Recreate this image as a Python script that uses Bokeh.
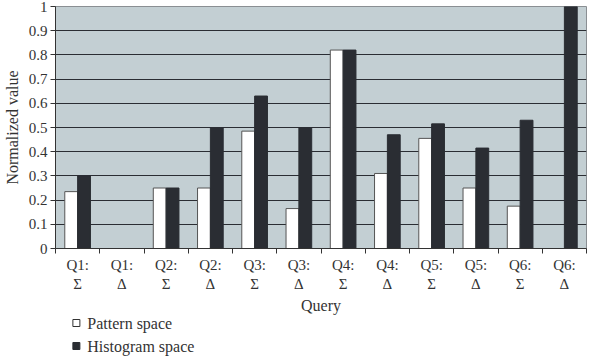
from bokeh.plotting import figure
from bokeh.layouts import column
from bokeh.models import FixedTicker, ColumnDataSource, Range1d, Label
from bokeh.embed import file_html
from bokeh.resources import INLINE

queries = ["Q1:\nΣ", "Q1:\nΔ", "Q2:\nΣ", "Q2:\nΔ", "Q3:\nΣ", "Q3:\nΔ",
           "Q4:\nΣ", "Q4:\nΔ", "Q5:\nΣ", "Q5:\nΔ", "Q6:\nΣ", "Q6:\nΔ"]
pattern_space = [0.235, 0.0, 0.25, 0.25, 0.485, 0.165, 0.82, 0.31, 0.455, 0.25, 0.175, 0.0]
histogram_space = [0.30, 0.0, 0.25, 0.50, 0.63, 0.50, 0.82, 0.47, 0.515, 0.415, 0.53, 1.0]
y_ticks = [0, 0.1, 0.2, 0.3, 0.4, 0.5, 0.6, 0.7, 0.8, 0.9, 1]
y_labels = ["0", "0.1", "0.2", "0.3", "0.4", "0.5", "0.6", "0.7", "0.8", "0.9", "1"]
series_names = ["Pattern space", "Histogram space"]

FONT = "Liberation Serif"
TXT = "#333333"
DARK = "#2a2d33"
n = len(queries)
centers = [i + 0.5 for i in range(n)]
bw = 0.29

src = ColumnDataSource(dict(
    xp=[c - bw / 2 for c in centers],
    xh=[c + bw / 2 for c in centers],
    pat=pattern_space,
    hist=histogram_space,
))

p = figure(width=593, height=316, output_backend="svg", toolbar_location=None,
           x_range=(0, n), y_range=(0, 1))
p.min_border_left = 52
p.min_border_right = 7
p.min_border_top = 6
p.min_border_bottom = 68
p.background_fill_color = "#c3cfd3"
p.border_fill_color = "white"
p.outline_line_color = "#8a8f93"
p.outline_line_width = 1

p.xgrid.grid_line_color = None
p.ygrid.grid_line_color = DARK
p.ygrid.grid_line_width = 1
p.ygrid.ticker = FixedTicker(ticks=y_ticks)

p.vbar(x="xp", top="pat", width=bw, source=src, fill_color="white",
       line_color="#555555", line_width=1)
p.vbar(x="xh", top="hist", width=bw, source=src, fill_color=DARK,
       line_color=DARK, line_width=1)

# y axis
p.yaxis.ticker = FixedTicker(ticks=y_ticks)
p.yaxis.major_label_overrides = {t: l for t, l in zip(y_ticks, y_labels)}
p.yaxis.axis_label = "Normalized value"
p.yaxis.axis_label_text_font = FONT
p.yaxis.axis_label_text_font_style = "normal"
p.yaxis.axis_label_text_font_size = "16px"
p.yaxis.axis_label_text_color = TXT
p.yaxis.major_label_text_font = FONT
p.yaxis.major_label_text_font_size = "15px"
p.yaxis.major_label_text_color = TXT
p.yaxis.major_label_standoff = 3
p.yaxis.axis_line_color = TXT
p.yaxis.major_tick_line_color = TXT
p.yaxis.major_tick_out = 5
p.yaxis.major_tick_in = 0
p.yaxis.minor_tick_line_color = None
p.yaxis.axis_label_standoff = 5

# x axis
p.xaxis.ticker = FixedTicker(ticks=centers, minor_ticks=list(range(n + 1)))
p.xaxis.major_label_overrides = {c: q for c, q in zip(centers, queries)}
p.xaxis.major_tick_line_color = None
p.xaxis.minor_tick_line_color = TXT
p.xaxis.minor_tick_out = 5
p.xaxis.minor_tick_in = 0
p.xaxis.major_label_text_font = FONT
p.xaxis.major_label_text_font_size = "15px"
p.xaxis.major_label_text_color = TXT
p.xaxis.major_label_standoff = 2
p.xaxis.axis_line_color = TXT
p.xaxis.axis_label = "Query"
p.xaxis.axis_label_text_font = FONT
p.xaxis.axis_label_text_font_style = "normal"
p.xaxis.axis_label_text_font_size = "16px"
p.xaxis.axis_label_text_color = TXT
p.xaxis.axis_label_standoff = 2

# legend panel below; its frame is aligned with the main frame (x 52..586),
# so the x range is given in page pixels
p2 = figure(width=593, height=46, output_backend="svg", toolbar_location=None,
            x_range=Range1d(52, 586), y_range=Range1d(46, 0),
            x_axis_type=None, y_axis_type=None, min_border=0)
p2.min_border_left = 52
p2.min_border_right = 7
p2.min_border_top = 0
p2.min_border_bottom = 0
p2.outline_line_color = None
p2.background_fill_color = "white"
p2.border_fill_color = "white"
p2.grid.visible = False

leg_rows = [6.5, 29.5]
p2.scatter(x=[73, 73], y=leg_rows, marker="square", size=7,
           fill_color=["white", DARK], line_color=[TXT, DARK], line_width=1)
for name, yy in zip(series_names, leg_rows):
    p2.add_layout(Label(x=84, y=yy, text=name, text_font=FONT,
                        text_font_size="16px", text_color=TXT,
                        text_baseline="middle", text_align="left"))

open("out.html", "w").write(file_html(column(p, p2, spacing=0), INLINE))
